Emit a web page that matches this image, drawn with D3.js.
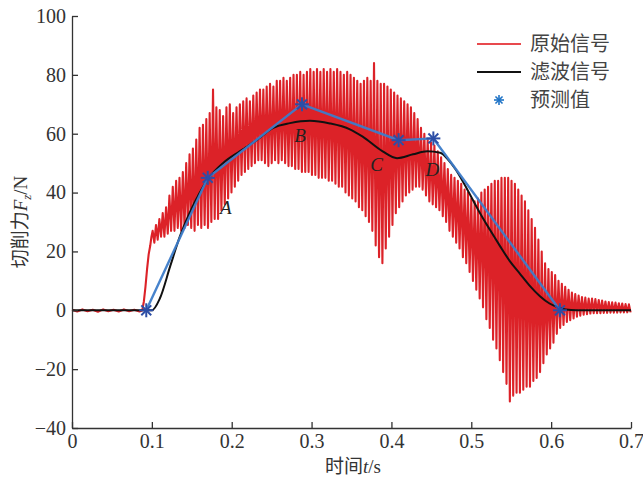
<!DOCTYPE html>
<html>
<head>
<meta charset="utf-8">
<script src="https://cdn.jsdelivr.net/npm/d3@7"></script>
<style>
  body { margin: 0; background: #fff; }
  text { font-family: "Liberation Serif", "Noto Sans CJK SC", serif; fill: #333; }
</style>
</head>
<body>
<div id="vis"></div>
<script>
// cutting force: raw signal (red), filtered (black), predicted points (blue)

const width = 643;
const height = 477;
const margins = {top: 16, bottom: 49, left: 72, right: 12};

// raw signal before contact, sampled every preStep from t = 0
const preStep = 0.0065;
const preContact = [0.2, -0.4, 0.3, -0.3, 0.2, -0.5, 0.3, -0.3, 0.2, -0.4, 0.3, -0.3, 0.2, -0.4];

// steep rise at tool entry
const riseT = [0.088, 0.090, 0.092, 0.094, 0.096, 0.098, 0.0995];
const riseF = [0, 3, 8, 14, 19, 22, 25];

// oscillation: one peak + one trough per cycle, starting at cycleStart
const cycleStart = 0.101;
const cyclePeriod = 0.0042;
const peaks = [
  27, 29, 31, 33, 35, 39, 42, 44, 45, 47,
  50, 53, 55, 58, 62, 63, 65, 67, 75, 69,
  68, 66, 69, 70, 67, 69, 70, 71, 72, 71,
  73, 74, 75, 75, 76, 77, 76, 78, 78, 79,
  78, 79, 80, 80, 81, 80, 81, 82, 81, 82,
  81, 82, 81, 82, 81, 82, 81, 80, 81, 80,
  79, 78, 77, 78, 79, 78, 84, 78, 77, 77,
  76, 75, 74, 73, 72, 71, 70, 69, 67, 65,
  62, 60, 58, 57, 56, 54, 52, 50, 48, 46,
  45, 44, 43, 41, 40, 38, 37, 38, 40, 41,
  42, 43, 44, 44, 45, 45, 45, 44, 43, 41,
  39, 37, 34, 31, 28, 24, 20, 16, 14, 13,
  12, 10, 9, 8, 7, 6, 5.5, 5, 4.5, 4.3,
  4, 4, 3.8, 3.5, 3.3, 3, 2.8, 2.7, 2.6, 2.4,
  2.3, 2.1, 2
];
const troughs = [
  23, 24, 25, 25, 26, 27, 27, 28, 27, 28,
  29, 28, 27, 29, 28, 29, 28, 30, 31, 31,
  34, 36, 38, 40, 42, 44, 46, 47, 48, 49,
  50, 51, 51, 50, 49, 50, 51, 50, 51, 50,
  49, 49, 48, 48, 47, 47, 47, 46, 46, 45,
  45, 45, 44, 44, 43, 42, 42, 40, 39, 38,
  37, 35, 34, 32, 30, 27, 22, 18, 16, 21,
  25, 29, 33, 35, 37, 39, 40, 41, 42, 42,
  41, 39, 37, 36, 35, 34, 32, 30, 27, 25,
  23, 21, 18, 16, 13, 10, 7, 4, 1, -3,
  -6, -10, -13, -17, -21, -25, -31, -29, -28, -28,
  -27, -26, -26, -24, -23, -21, -18, -15, -13, -11,
  -8, -6, -5, -4, -3.4, -2.8, -2.2, -1.8, -1.5, -1.3,
  -1.1, -1, -1, -1, -0.9, -0.9, -0.8, -0.8, -0.8, -0.7,
  -0.7, -0.7, -0.7
];

// filtered signal
const filtT = [0, 0.100, 0.110, 0.123, 0.135, 0.148, 0.159, 0.170, 0.189, 0.210, 0.232, 0.252, 0.273, 0.298, 0.323,
  0.348, 0.364, 0.389, 0.407, 0.427, 0.445, 0.461, 0.470, 0.480, 0.490, 0.500, 0.511, 0.523, 0.536,
  0.548, 0.561, 0.573, 0.586, 0.598, 0.611, 0.625, 0.640, 0.700];
const filtF = [0, 0, 4, 15, 25, 33.5, 39.5, 44.5, 50, 54, 58, 62, 63.6, 64.4, 63.5,
  61.5, 59, 54, 51.7, 53, 54, 53.5, 51.5, 48, 43.5, 38.5, 33, 27.5, 21.8,
  16.8, 12.4, 8.4, 4.8, 2.3, 0.8, 0.1, 0, 0];

// predicted values
const predLabels = ["", "A", "B", "C", "D", ""];
const predT = [0.093, 0.170, 0.288, 0.409, 0.4525, 0.611];
const predF = [0, 45, 70, 57.8, 58.4, 0];

const xTicks = [0, 0.1, 0.2, 0.3, 0.4, 0.5, 0.6, 0.7];
const yTicks = [-40, -20, 0, 20, 40, 60, 80, 100];
const legendNames = ["原始信号", "滤波信号", "预测值"];

const red = "#dc2228";
const blue = "#3d7cc9";
const starBlue = "#2d4ea6";

// build raw signal points
let raw = [];
preContact.forEach((f, i) => raw.push([i * preStep, f]));
riseT.forEach((t, i) => raw.push([t, riseF[i]]));
peaks.forEach((p, i) => {
  const t = cycleStart + i * cyclePeriod;
  raw.push([t, p]);
  if (t + cyclePeriod / 2 <= 0.7) raw.push([t + cyclePeriod / 2, troughs[i]]);
});

const xScale = d3.scaleLinear().domain([0, 0.7]).range([margins.left, width - margins.right]);
const yScale = d3.scaleLinear().domain([-40, 100]).range([height - margins.bottom, margins.top]);

let svg = d3.select("#vis").append("svg").attr("width", width).attr("height", height);

let line = d3.line().x(d => xScale(d[0])).y(d => yScale(d[1]));

svg.append("path").datum(raw)
  .attr("d", line)
  .attr("fill", "none")
  .attr("stroke", red)
  .attr("stroke-width", 2.1)
  .attr("stroke-linejoin", "round");

svg.append("path").datum(filtT.map((t, i) => [t, filtF[i]]))
  .attr("d", line.curve(d3.curveMonotoneX))
  .attr("fill", "none")
  .attr("stroke", "#111")
  .attr("stroke-width", 2);

svg.append("path").datum(predT.map((t, i) => [t, predF[i]]))
  .attr("d", line.curve(d3.curveLinear))
  .attr("fill", "none")
  .attr("stroke", blue)
  .attr("stroke-width", 2.4)
  .attr("opacity", 0.95);

function star(g, size, color, sw) {
  [0, 45, 90, 135].forEach(a => {
    const r = a * Math.PI / 180;
    g.append("line")
      .attr("x1", -size * Math.cos(r)).attr("y1", -size * Math.sin(r))
      .attr("x2", size * Math.cos(r)).attr("y2", size * Math.sin(r))
      .attr("stroke", color).attr("stroke-width", sw);
  });
}

predT.forEach((t, i) => {
  let g = svg.append("g").attr("transform", `translate(${xScale(t)}, ${yScale(predF[i])})`);
  star(g, 7, starBlue, 2);
});

// point labels
const labelOffsets = [[0, 0], [18, 36], [-2, 38], [-22, 31], [-1, 38], [0, 0]];
predLabels.forEach((l, i) => {
  if (!l) return;
  svg.append("text")
    .attr("x", xScale(predT[i]) + labelOffsets[i][0])
    .attr("y", yScale(predF[i]) + labelOffsets[i][1])
    .attr("text-anchor", "middle")
    .style("font-style", "italic")
    .style("font-size", "19px")
    .style("fill", "#222")
    .text(l);
});

// axes
let xAxis = d3.axisBottom(xScale).tickValues(xTicks).tickSizeInner(-6).tickSizeOuter(0).tickPadding(6)
  .tickFormat(d => d === 0 ? "0" : d3.format(".1f")(d));
let yAxis = d3.axisLeft(yScale).tickValues(yTicks).tickSizeInner(-6).tickSizeOuter(0).tickPadding(6);

let xAxisG = svg.append("g").attr("transform", `translate(0, ${height - margins.bottom})`).call(xAxis);
let yAxisG = svg.append("g").attr("transform", `translate(${margins.left}, 0)`).call(yAxis);
[xAxisG, yAxisG].forEach(g => {
  g.selectAll("path, line").attr("stroke", "#333").attr("stroke-width", 1.3);
  g.selectAll("text").style("font-size", "20px").style("font-family", "Liberation Serif").attr("fill", "#333");
});

// axis titles
let xt = svg.append("text")
  .attr("x", 353).attr("y", 473)
  .attr("text-anchor", "middle")
  .style("font-size", "19px");
xt.append("tspan").text("时间");
xt.append("tspan").style("font-style", "italic").text("t");
xt.append("tspan").text("/s");

let yt = svg.append("text")
  .attr("transform", "translate(27, 222) rotate(-90)")
  .attr("text-anchor", "middle")
  .style("font-size", "19px");
yt.append("tspan").text("切削力");
yt.append("tspan").style("font-style", "italic").text("F");
yt.append("tspan").attr("dy", 4).style("font-size", "13px").style("font-style", "italic").text("z");
yt.append("tspan").attr("dy", -4).text("/N");

// legend
let legend = svg.append("g").attr("class", "legend");
legendNames.forEach((name, i) => {
  const y = 44 + i * 28;
  if (i === 0 || i === 1) {
    legend.append("line")
      .attr("x1", 477).attr("x2", 521).attr("y1", y).attr("y2", y)
      .attr("stroke", i === 0 ? "#e8494d" : "#111")
      .attr("stroke-width", 2);
  } else {
    let g = legend.append("g").attr("transform", `translate(499, ${y})`);
    star(g, 5, "#1f73c6", 1.6);
  }
  legend.append("text")
    .attr("x", 530).attr("y", y + 7)
    .style("font-size", "20px")
    .style("fill", "#444")
    .text(name);
});
</script>
</body>
</html>
